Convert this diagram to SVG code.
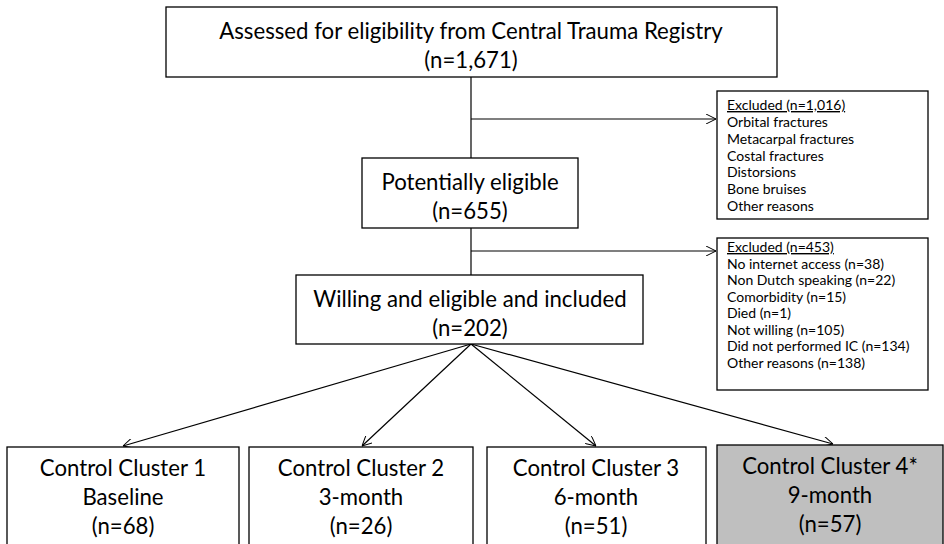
<svg xmlns="http://www.w3.org/2000/svg" width="944" height="544" viewBox="0 0 944 544">
<defs>
<marker id="arr" viewBox="0 0 10 10" refX="10" refY="5" markerWidth="10" markerHeight="10" markerUnits="userSpaceOnUse" orient="auto">
<path d="M0,0 L10,5 L0,10" fill="none" stroke="#000" stroke-width="1"/>
</marker>
<style>
.box{fill:#fff;stroke:#000;stroke-width:1.3}
.grey{fill:#bfbfbf;stroke:#000;stroke-width:1.3}
.big{font-family:Lato,"Open Sans",sans-serif;font-size:22.2px;fill:#000;text-anchor:middle}
.sm{font-family:Lato,"Open Sans",sans-serif;font-size:14px;fill:#000}
.ln{fill:none;stroke:#000;stroke-width:1.2}
</style>
</defs>
<rect width="944" height="544" fill="#fff"/>
<g id="connectors">
<line class="ln" x1="471" y1="77" x2="471" y2="158"/>
<line class="ln" x1="471" y1="119" x2="716" y2="119" marker-end="url(#arr)"/>
<line class="ln" x1="471" y1="228" x2="471" y2="275"/>
<line class="ln" x1="471" y1="251" x2="716" y2="251" marker-end="url(#arr)"/>
<line class="ln" x1="471" y1="344" x2="123" y2="446" marker-end="url(#arr)"/>
<line class="ln" x1="471" y1="344" x2="362" y2="446" marker-end="url(#arr)"/>
<line class="ln" x1="471" y1="344" x2="596" y2="446" marker-end="url(#arr)"/>
<line class="ln" x1="471" y1="344" x2="833" y2="444" marker-end="url(#arr)"/>
</g>
<g id="assessed">
<rect class="box" x="166" y="7" width="611" height="70"/>
<text class="big" x="471" y="39">Assessed for eligibility from Central Trauma Registry</text>
<text class="big" x="471" y="68">(n=1,671)</text>
</g>
<g id="excluded1">
<rect class="box" x="717" y="91" width="211" height="128"/>
<text class="sm" x="727" y="110" text-decoration="underline">Excluded (n=1,016)</text>
<text class="sm" x="727" y="127">Orbital fractures</text>
<text class="sm" x="727" y="144">Metacarpal fractures</text>
<text class="sm" x="727" y="161">Costal fractures</text>
<text class="sm" x="727" y="177">Distorsions</text>
<text class="sm" x="727" y="194">Bone bruises</text>
<text class="sm" x="727" y="211">Other reasons</text>
</g>
<g id="potential">
<rect class="box" x="362" y="158" width="216" height="70"/>
<text class="big" x="470" y="190">Potentially eligible</text>
<text class="big" x="470" y="219">(n=655)</text>
</g>
<g id="excluded2">
<rect class="box" x="717" y="238" width="211" height="152"/>
<text class="sm" x="727" y="252" text-decoration="underline">Excluded (n=453)</text>
<text class="sm" x="727" y="269">No internet access (n=38)</text>
<text class="sm" x="727" y="285">Non Dutch speaking (n=22)</text>
<text class="sm" x="727" y="302">Comorbidity (n=15)</text>
<text class="sm" x="727" y="318">Died (n=1)</text>
<text class="sm" x="727" y="335">Not willing (n=105)</text>
<text class="sm" x="727" y="351">Did not performed IC (n=134)</text>
<text class="sm" x="727" y="368">Other reasons (n=138)</text>
</g>
<g id="included">
<rect class="box" x="296" y="275" width="347" height="69"/>
<text class="big" x="470" y="307">Willing and eligible and included</text>
<text class="big" x="470" y="336">(n=202)</text>
</g>
<g id="cluster1">
<rect class="box" x="7" y="447" width="232" height="110"/>
<text class="big" x="123" y="476">Control Cluster 1</text>
<text class="big" x="123" y="505">Baseline</text>
<text class="big" x="123" y="534">(n=68)</text>
</g>
<g id="cluster2">
<rect class="box" x="249" y="447" width="224" height="110"/>
<text class="big" x="361" y="476">Control Cluster 2</text>
<text class="big" x="361" y="505">3-month</text>
<text class="big" x="361" y="534">(n=26)</text>
</g>
<g id="cluster3">
<rect class="box" x="487" y="447" width="219" height="110"/>
<text class="big" x="596" y="476">Control Cluster 3</text>
<text class="big" x="596" y="505">6-month</text>
<text class="big" x="596" y="534">(n=51)</text>
</g>
<g id="cluster4">
<rect class="grey" x="717" y="445" width="226" height="110"/>
<text class="big" x="830" y="474">Control Cluster 4*</text>
<text class="big" x="830" y="503">9-month</text>
<text class="big" x="830" y="532">(n=57)</text>
</g>
</svg>
